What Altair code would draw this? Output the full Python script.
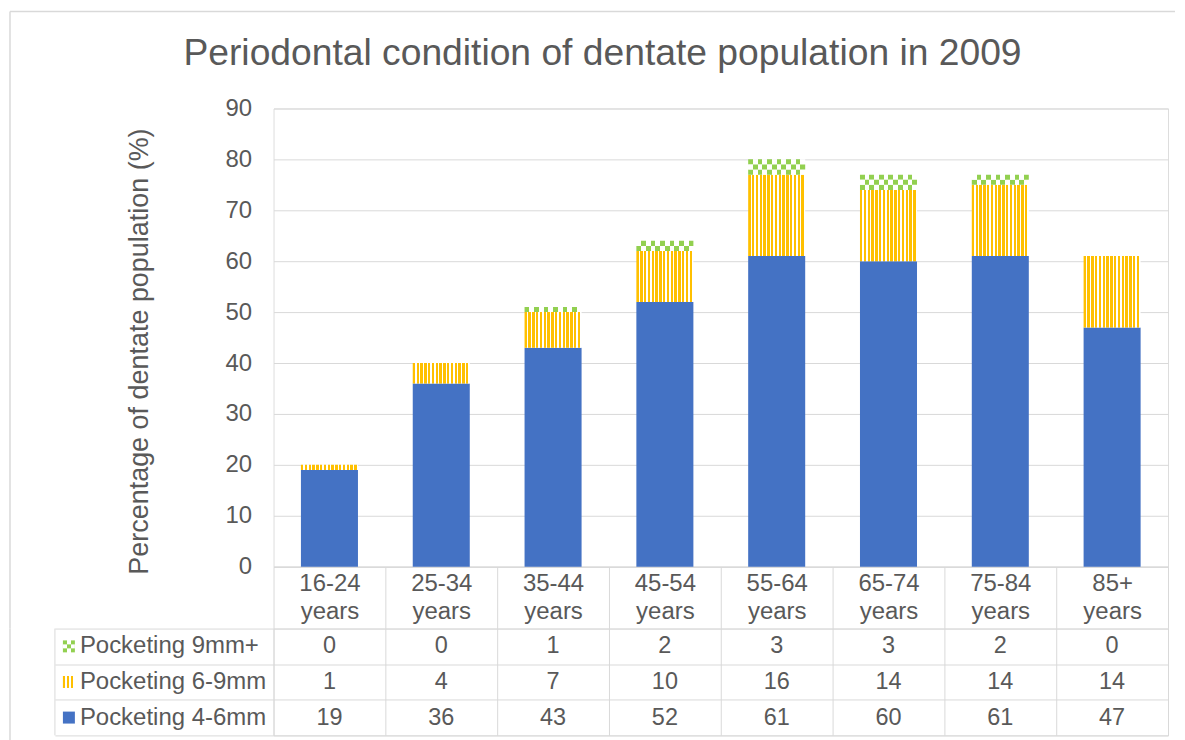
import altair as alt
import pandas as pd

# ---------------- data ----------------
categories = ["16-24 years", "25-34 years", "35-44 years", "45-54 years",
              "55-64 years", "65-74 years", "75-84 years", "85+ years"]
series_names = ["Pocketing 4-6mm", "Pocketing 6-9mm", "Pocketing 9mm+"]
pocket_4_6 = [19, 36, 43, 52, 61, 60, 61, 47]
pocket_6_9 = [1, 4, 7, 10, 16, 14, 14, 14]
pocket_9_plus = [0, 0, 1, 2, 3, 3, 2, 0]
y_ticks = [0, 10, 20, 30, 40, 50, 60, 70, 80, 90]
table_order = ["Pocketing 9mm+", "Pocketing 6-9mm", "Pocketing 4-6mm"]

rows = []
for i, c in enumerate(categories):
    for order, (s, vals) in enumerate(zip(series_names, [pocket_4_6, pocket_6_9, pocket_9_plus])):
        rows.append({"cat": c, "series": s, "value": vals[i], "order": order})
df = pd.DataFrame(rows)
labels_df = pd.DataFrame({"series": table_order})

# ---------------- styles ----------------
FONT = "Liberation Sans"
TEXT = "#595959"
GRID = "#D9D9D9"
BLUE = "#4472C4"
ORANGE = "#FFC000"
GREEN = "#92D050"
WHITE = "#FFFFFF"


def stripes(c1, c2, n, frac):
    stops = []
    for i in range(n):
        a, b, e = i / n, (i + frac) / n, (i + 1) / n
        stops += [(a, c1), (b, c1), (b, c2), (e, c2)]
    return alt.LinearGradient(
        gradient="linear", x1=0, y1=0, x2=1, y2=0,
        stops=[alt.GradientStop(offset=o, color=c) for o, c in stops])


grad_orange = stripes(ORANGE, WHITE, 15, 0.62)
grad_green_a = stripes(GREEN, WHITE, 6, 0.5)
grad_green_b = stripes(WHITE, GREEN, 6, 0.5)
sw_orange = stripes(ORANGE, WHITE, 3, 0.55)
sw_green_a = alt.LinearGradient(gradient="linear", x1=0, y1=0, x2=1, y2=0, stops=[
    alt.GradientStop(offset=0, color=GREEN), alt.GradientStop(offset=0.34, color=GREEN),
    alt.GradientStop(offset=0.34, color=WHITE), alt.GradientStop(offset=0.66, color=WHITE),
    alt.GradientStop(offset=0.66, color=GREEN), alt.GradientStop(offset=1, color=GREEN)])
sw_green_b = alt.LinearGradient(gradient="linear", x1=0, y1=0, x2=1, y2=0, stops=[
    alt.GradientStop(offset=0, color=WHITE), alt.GradientStop(offset=0.34, color=WHITE),
    alt.GradientStop(offset=0.34, color=GREEN), alt.GradientStop(offset=0.66, color=GREEN),
    alt.GradientStop(offset=0.66, color=WHITE), alt.GradientStop(offset=1, color=WHITE)])

W = 896
H_TOP = 459
H_TAB = 107
HEADER = 62
BAR = alt.RelativeBandSize(0.51)

# ---------------- top chart ----------------
x_top = alt.X("cat:N", sort=categories,
              scale=alt.Scale(paddingInner=0, paddingOuter=0),
              axis=alt.Axis(title=None, labelAngle=0, labelExpr="split(datum.label, ' ')",
                            tickBand="extent", tickSize=HEADER, tickColor=GRID, domainColor=GRID,
                            labelColor=TEXT, labelFontSize=24, labelFont=FONT,
                            labelPadding=-57, labelBaseline="top", labelLineHeight=28))
y_axis = alt.Axis(values=y_ticks, title="Percentage of dentate population (%)",
                  titleFontSize=27, titleColor=TEXT, titleFont=FONT, titleFontWeight="normal",
                  titlePadding=72, titleY=243, labelFontSize=24, labelColor=TEXT, labelFont=FONT,
                  labelPadding=22, ticks=False, domain=False, grid=True, gridColor=GRID)
y_scale = alt.Scale(domain=[0, 90], nice=False)

base = alt.Chart(df).transform_stack(
    stack="value", groupby=["cat"], as_=["y0", "y1"],
    sort=[alt.SortField("order", "ascending")])

blue_bars = base.transform_filter("datum.order == 0").mark_bar(
    fill=BLUE, width=BAR).encode(
    x=x_top, y=alt.Y("y1:Q", scale=y_scale, axis=y_axis), y2="y0:Q")

orange_bars = base.transform_filter("datum.order == 1").mark_bar(
    fill=grad_orange, width=BAR).encode(
    x=x_top, y=alt.Y("y1:Q", scale=y_scale, axis=y_axis), y2="y0:Q")

green_base = base.transform_filter("datum.order == 2").transform_calculate(
    k="sequence(0, datum.value)").transform_flatten(["k"]).transform_calculate(
    ya="datum.y0 + datum.k", yb="datum.y0 + datum.k + 1", par="datum.k % 2")

green_a = green_base.transform_filter("datum.par == 0").mark_bar(
    fill=grad_green_a, width=BAR).encode(
    x=x_top, y=alt.Y("yb:Q", scale=y_scale, axis=y_axis), y2="ya:Q")
green_b = green_base.transform_filter("datum.par == 1").mark_bar(
    fill=grad_green_b, width=BAR).encode(
    x=x_top, y=alt.Y("yb:Q", scale=y_scale, axis=y_axis), y2="ya:Q")

one = pd.DataFrame({"a": [0]})
border_left_top = alt.Chart(one).mark_rule(color=GRID, strokeWidth=1.5).encode(
    x=alt.value(-264), y=alt.value(-97), y2=alt.value(H_TOP + HEADER))
border_top = alt.Chart(one).mark_rule(color=GRID, strokeWidth=1.5).encode(
    x=alt.value(-264), x2=alt.value(903), y=alt.value(-97))

top = alt.layer(blue_bars, orange_bars, green_a, green_b, border_left_top, border_top).properties(
    width=W, height=H_TOP)

# ---------------- data table ----------------
x_tab = alt.X("cat:N", sort=categories, scale=alt.Scale(paddingInner=0, paddingOuter=0),
              axis=alt.Axis(orient="top", title=None, labels=False, ticks=False, domain=False,
                            grid=True, gridColor=GRID, tickBand="extent"))
y_tab = alt.Y("series:N", sort=table_order, scale=alt.Scale(paddingInner=0, paddingOuter=0),
              axis=alt.Axis(title=None, labels=False, ticks=True, tickSize=219, tickColor=GRID,
                            tickBand="extent", grid=True, gridColor=GRID, domain=False))

cells = alt.Chart(df).mark_text(fontSize=23.5, font=FONT, color=TEXT).encode(
    x=x_tab, y=y_tab, text="value:Q")

row_labels = alt.Chart(labels_df).mark_text(
    fontSize=24, font=FONT, color=TEXT, align="left", baseline="middle").encode(
    x=alt.value(-194), y=y_tab, text="series:N")

sw_blue = alt.Chart(labels_df).transform_filter("datum.series == 'Pocketing 4-6mm'").mark_square(
    size=144, fill=BLUE, opacity=1).encode(x=alt.value(-205), y=y_tab)
sw_or = alt.Chart(labels_df).transform_filter("datum.series == 'Pocketing 6-9mm'").mark_square(
    size=144, fill=sw_orange, opacity=1).encode(x=alt.value(-205), y=y_tab)
sw_gr = alt.Chart(labels_df).transform_filter("datum.series == 'Pocketing 9mm+'").mark_square(
    size=144, fill=sw_green_a, opacity=1).encode(x=alt.value(-205), y=y_tab)
sw_gr2 = alt.Chart(labels_df).transform_filter("datum.series == 'Pocketing 9mm+'").mark_point(
    shape="M-1,-0.333H1V0.333H-1Z", size=144, filled=True, fill=sw_green_b, opacity=1).encode(
    x=alt.value(-205), y=y_tab)

left_rule = alt.Chart(one).mark_rule(color=GRID).encode(
    x=alt.value(-219), y=alt.value(0), y2=alt.value(H_TAB))
border_left_bottom = alt.Chart(one).mark_rule(color=GRID, strokeWidth=1.5).encode(
    x=alt.value(-264), y=alt.value(0), y2=alt.value(H_TAB + 6))

table = alt.layer(cells, row_labels, sw_blue, sw_or, sw_gr, sw_gr2, left_rule,
                  border_left_bottom).properties(width=W, height=H_TAB)

chart = alt.vconcat(top, table, spacing=HEADER, bounds="flush").properties(
    title=alt.TitleParams("Periodontal condition of dentate population in 2009",
                          fontSize=37.3, font=FONT, color=TEXT, fontWeight="normal",
                          anchor="middle", offset=-63, dx=10),
    padding={"left": 0, "top": 1, "right": 0, "bottom": 0},
).configure_view(stroke=None).configure(background="white")

chart.save("out.html", embed_options={"renderer": "svg", "actions": False})
